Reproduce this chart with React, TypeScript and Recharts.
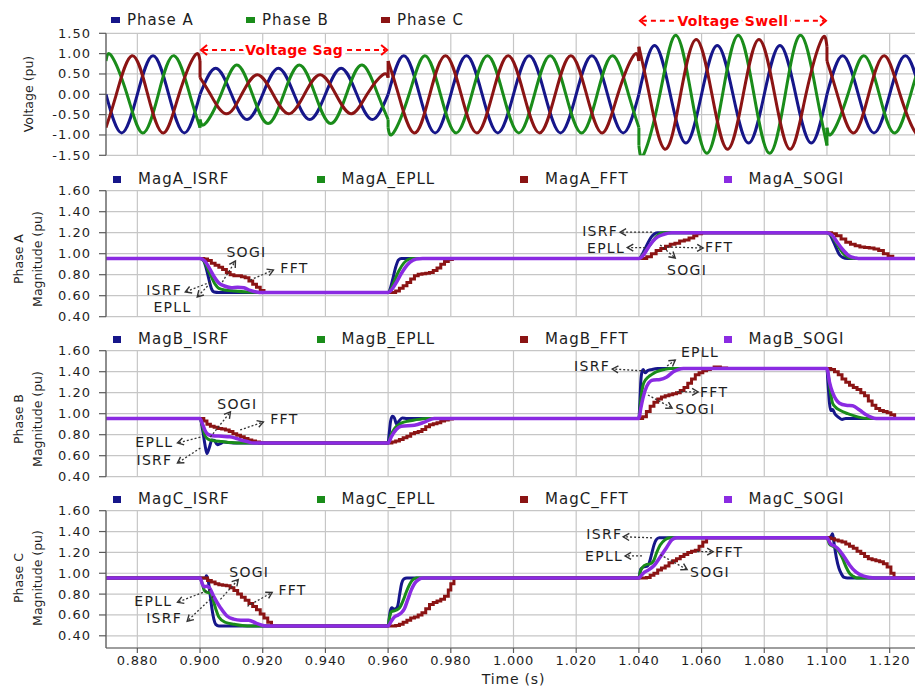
import React from 'react';
import { LineChart, Line, XAxis, YAxis, CartesianGrid, ReferenceLine, ReferenceDot } from 'recharts';

type P = [number, number];

const FONT = '"DejaVu Sans", "Liberation Sans", Arial, sans-serif';
const NAVY = '#16168a';
const GREEN = '#1a8c1a';
const DARKRED = '#8b1414';
const PURPLE = '#8a2be2';
const GRID = '#c6c6c6';
const AXIS = '#5a5a5a';
const TEXT = '#1e1e1e';

// ---------- axes ----------
const timeTicks = [0.88, 0.9, 0.92, 0.94, 0.96, 0.98, 1.0, 1.02, 1.04, 1.06, 1.08, 1.1, 1.12];
const voltageTicks = [-1.5, -1, -0.5, 0, 0.5, 1, 1.5];
const magTicks = [0.4, 0.6, 0.8, 1.0, 1.2, 1.4, 1.6];

// ---------- top panel: phase voltages (segments: normal / sag / normal / swell / normal) ----------
const phaseA: P[][] = [
  [[0.87, 0], [0.875, -0.95], [0.88, 0], [0.885, 0.95], [0.89, 0], [0.895, -0.95], [0.9, 0]],
  [[0.9, 0], [0.905, 0.64], [0.91, 0], [0.915, -0.62], [0.92, 0], [0.925, 0.64], [0.93, 0], [0.935, -0.62], [0.94, 0], [0.945, 0.64], [0.95, 0], [0.955, -0.62], [0.96, 0]],
  [[0.96, 0], [0.965, 0.95], [0.97, 0], [0.975, -0.95], [0.98, 0], [0.985, 0.95], [0.99, 0], [0.995, -0.95], [1.0, 0], [1.005, 0.95], [1.01, 0], [1.015, -0.95], [1.02, 0], [1.025, 0.95], [1.03, 0], [1.035, -0.95], [1.04, 0]],
  [[1.04, 0], [1.045, 1.2], [1.05, 0], [1.055, -1.2], [1.06, 0], [1.065, 1.2], [1.07, 0], [1.075, -1.2], [1.08, 0], [1.085, 1.2], [1.09, 0], [1.095, -1.2], [1.1, 0]],
  [[1.1, 0], [1.105, 0.95], [1.11, 0], [1.115, -0.95], [1.12, 0], [1.125, 0.95], [1.13, 0]],
];
const phaseB: P[][] = [
  [[0.87, 0.82], [0.8717, 0.95], [0.8767, 0], [0.8817, -0.95], [0.8867, 0], [0.8917, 0.95], [0.8967, 0], [0.9, -0.82]],
  [[0.9, -0.62], [0.9017, -0.72], [0.9067, 0], [0.9117, 0.72], [0.9167, 0], [0.9217, -0.72], [0.9267, 0], [0.9317, 0.72], [0.9367, 0], [0.9417, -0.72], [0.9467, 0], [0.9517, 0.72], [0.9567, 0], [0.96, -0.62]],
  [[0.96, -0.82], [0.9617, -0.95], [0.9667, 0], [0.9717, 0.95], [0.9767, 0], [0.9817, -0.95], [0.9867, 0], [0.9917, 0.95], [0.9967, 0], [1.0017, -0.95], [1.0067, 0], [1.0117, 0.95], [1.0167, 0], [1.0217, -0.95], [1.0267, 0], [1.0317, 0.95], [1.0367, 0], [1.04, -0.82]],
  [[1.04, -1.26], [1.0417, -1.45], [1.0467, 0], [1.0517, 1.45], [1.0567, 0], [1.0617, -1.45], [1.0667, 0], [1.0717, 1.45], [1.0767, 0], [1.0817, -1.45], [1.0867, 0], [1.0917, 1.45], [1.0967, 0], [1.1, -1.26]],
  [[1.1, -0.82], [1.1017, -0.95], [1.1067, 0], [1.1117, 0.95], [1.1167, 0], [1.1217, -0.95], [1.1267, 0], [1.13, 0.82]],
];
const phaseC: P[][] = [
  [[0.87, -0.82], [0.8733, 0], [0.8783, 0.95], [0.8833, 0], [0.8883, -0.95], [0.8933, 0], [0.8983, 0.95], [0.9, 0.82]],
  [[0.9, 0.41], [0.9033, 0], [0.9083, -0.48], [0.9133, 0], [0.9183, 0.48], [0.9233, 0], [0.9283, -0.48], [0.9333, 0], [0.9383, 0.48], [0.9433, 0], [0.9483, -0.48], [0.9533, 0], [0.9583, 0.48], [0.96, 0.41]],
  [[0.96, 0.82], [0.9633, 0], [0.9683, -0.95], [0.9733, 0], [0.9783, 0.95], [0.9833, 0], [0.9883, -0.95], [0.9933, 0], [0.9983, 0.95], [1.0033, 0], [1.0083, -0.95], [1.0133, 0], [1.0183, 0.95], [1.0233, 0], [1.0283, -0.95], [1.0333, 0], [1.0383, 0.95], [1.04, 0.82]],
  [[1.04, 1.17], [1.0433, 0], [1.0483, -1.35], [1.0533, 0], [1.0583, 1.35], [1.0633, 0], [1.0683, -1.35], [1.0733, 0], [1.0783, 1.35], [1.0833, 0], [1.0883, -1.35], [1.0933, 0], [1.0983, 1.35], [1.1, 1.17]],
  [[1.1, 0.82], [1.1033, 0], [1.1083, -0.95], [1.1133, 0], [1.1183, 0.95], [1.1233, 0], [1.1283, -0.95], [1.13, -0.82]],
];

// ---------- magnitude estimates ----------
const magA_ISRF: P[] = [[0.87, 0.955], [0.9, 0.955], [0.9008, 0.95], [0.9018, 0.88], [0.9028, 0.76], [0.9036, 0.67], [0.9045, 0.635], [0.906, 0.63],
  [0.96, 0.63], [0.9606, 0.66], [0.9615, 0.76], [0.9625, 0.88], [0.9633, 0.94], [0.9642, 0.955],
  [1.04, 0.955], [1.041, 0.99], [1.042, 1.05], [1.043, 1.11], [1.044, 1.16], [1.045, 1.19], [1.046, 1.2],
  [1.1, 1.2], [1.101, 1.18], [1.102, 1.12], [1.103, 1.05], [1.104, 0.99], [1.105, 0.965], [1.1065, 0.955], [1.13, 0.955]];
const magA_EPLL: P[] = [[0.87, 0.955], [0.9, 0.955], [0.9012, 0.93], [0.903, 0.82], [0.9048, 0.71], [0.906, 0.67], [0.908, 0.655], [0.911, 0.645], [0.915, 0.635], [0.92, 0.63],
  [0.96, 0.63], [0.961, 0.67], [0.962, 0.74], [0.9635, 0.84], [0.965, 0.91], [0.9665, 0.945], [0.968, 0.955],
  [1.04, 0.955], [1.041, 0.98], [1.0425, 1.04], [1.044, 1.1], [1.0455, 1.16], [1.047, 1.195], [1.048, 1.2],
  [1.1, 1.2], [1.1015, 1.17], [1.103, 1.1], [1.1045, 1.03], [1.106, 0.98], [1.108, 0.955], [1.13, 0.955]];
const magA_FFT: P[] = [[0.87, 0.955], [0.9, 0.955], [0.9012, 0.95], [0.9024, 0.935], [0.9036, 0.91], [0.9048, 0.89], [0.906, 0.87], [0.9072, 0.85], [0.9084, 0.82], [0.9096, 0.8], [0.9108, 0.79], [0.912, 0.79], [0.9132, 0.78], [0.9144, 0.77], [0.9156, 0.74], [0.9168, 0.71], [0.918, 0.68], [0.9192, 0.65], [0.9204, 0.63],
  [0.96, 0.63], [0.9612, 0.63], [0.9624, 0.645], [0.9636, 0.67], [0.9648, 0.695], [0.966, 0.725], [0.9672, 0.76], [0.9684, 0.79], [0.9696, 0.805], [0.9708, 0.81], [0.972, 0.815], [0.9732, 0.82], [0.9744, 0.84], [0.9756, 0.865], [0.9768, 0.9], [0.978, 0.925], [0.9792, 0.945], [0.9805, 0.955],
  [1.04, 0.955], [1.0425, 0.97], [1.044, 1.0], [1.0455, 1.03], [1.047, 1.05], [1.0485, 1.07], [1.05, 1.09], [1.0515, 1.1], [1.053, 1.12], [1.0545, 1.13], [1.056, 1.15], [1.0575, 1.17], [1.0585, 1.19], [1.06, 1.2],
  [1.1, 1.2], [1.1015, 1.19], [1.103, 1.17], [1.1045, 1.14], [1.106, 1.11], [1.1075, 1.09], [1.109, 1.075], [1.1105, 1.065], [1.112, 1.06], [1.1135, 1.055], [1.115, 1.045], [1.1165, 1.03], [1.118, 1.0], [1.1195, 0.975], [1.121, 0.955], [1.13, 0.955]];
const magA_SOGI: P[] = [[0.87, 0.955], [0.9, 0.955], [0.9015, 0.93], [0.903, 0.86], [0.9045, 0.78], [0.906, 0.72], [0.908, 0.69], [0.91, 0.675], [0.912, 0.68], [0.914, 0.675], [0.916, 0.65], [0.918, 0.635], [0.92, 0.63],
  [0.96, 0.63], [0.9612, 0.66], [0.9625, 0.72], [0.964, 0.8], [0.9655, 0.87], [0.967, 0.92], [0.969, 0.95], [0.971, 0.955],
  [1.04, 0.955], [1.0415, 0.99], [1.043, 1.06], [1.0445, 1.12], [1.046, 1.16], [1.048, 1.185], [1.0505, 1.2],
  [1.1, 1.2], [1.1015, 1.18], [1.103, 1.12], [1.105, 1.04], [1.107, 0.98], [1.109, 0.96], [1.11, 0.955], [1.13, 0.955]];

const magB_ISRF: P[] = [[0.87, 0.955], [0.9, 0.955], [0.9008, 0.85], [0.9016, 0.7], [0.9022, 0.62], [0.903, 0.68], [0.9038, 0.75], [0.9046, 0.745], [0.9055, 0.705], [0.9065, 0.715], [0.9075, 0.73], [0.909, 0.725], [0.912, 0.72],
  [0.96, 0.72], [0.9603, 0.8], [0.9608, 0.93], [0.9614, 0.975], [0.962, 0.96], [0.9627, 0.9], [0.9635, 0.93], [0.9645, 0.96], [0.966, 0.955],
  [1.04, 0.955], [1.0403, 1.1], [1.0406, 1.3], [1.041, 1.4], [1.0414, 1.42], [1.042, 1.39], [1.0428, 1.41], [1.044, 1.42], [1.046, 1.43],
  [1.1, 1.43], [1.1003, 1.3], [1.1008, 1.1], [1.1012, 1.03], [1.1018, 1.04], [1.1025, 1.0], [1.1035, 0.97], [1.1048, 0.945], [1.106, 0.955], [1.13, 0.955]];
const magB_EPLL: P[] = [[0.87, 0.955], [0.9, 0.955], [0.9008, 0.88], [0.9016, 0.79], [0.9025, 0.76], [0.904, 0.745], [0.907, 0.735], [0.91, 0.725], [0.913, 0.72],
  [0.96, 0.72], [0.9608, 0.79], [0.9621, 0.86], [0.9642, 0.91], [0.9665, 0.93], [0.9684, 0.94], [0.9726, 0.955],
  [1.04, 0.955], [1.0405, 1.1], [1.041, 1.22], [1.0415, 1.29], [1.043, 1.35], [1.0445, 1.38], [1.0457, 1.4], [1.048, 1.42], [1.05, 1.43],
  [1.1, 1.43], [1.1005, 1.35], [1.101, 1.23], [1.1018, 1.1], [1.1028, 1.06], [1.104, 1.035], [1.1066, 1.0], [1.1098, 0.97], [1.113, 0.955], [1.13, 0.955]];
const magB_FFT: P[] = [[0.87, 0.955], [0.9, 0.955], [0.9012, 0.93], [0.9022, 0.9], [0.9033, 0.88], [0.9045, 0.87], [0.9057, 0.86], [0.9069, 0.855], [0.9081, 0.845], [0.9093, 0.83], [0.9105, 0.81], [0.9117, 0.795], [0.9129, 0.78], [0.9141, 0.765], [0.9153, 0.75], [0.9165, 0.74], [0.9177, 0.73], [0.919, 0.72],
  [0.96, 0.72], [0.9612, 0.73], [0.9624, 0.74], [0.9636, 0.755], [0.9648, 0.77], [0.966, 0.785], [0.9672, 0.81], [0.9684, 0.82], [0.9696, 0.83], [0.9708, 0.85], [0.972, 0.875], [0.9732, 0.895], [0.9744, 0.905], [0.9756, 0.915], [0.9768, 0.93], [0.978, 0.94], [0.9792, 0.95], [0.9805, 0.955],
  [1.04, 0.955], [1.0412, 0.97], [1.0424, 1.02], [1.0436, 1.07], [1.0448, 1.11], [1.046, 1.14], [1.0472, 1.16], [1.0484, 1.17], [1.0496, 1.18], [1.0508, 1.19], [1.052, 1.2], [1.0532, 1.22], [1.0544, 1.25], [1.0556, 1.29], [1.0568, 1.33], [1.058, 1.37], [1.0592, 1.39], [1.0604, 1.41], [1.0616, 1.42], [1.0628, 1.43], [1.064, 1.445], [1.066, 1.435], [1.068, 1.43],
  [1.1, 1.43], [1.1012, 1.42], [1.1024, 1.4], [1.1036, 1.37], [1.1048, 1.33], [1.106, 1.3], [1.1072, 1.27], [1.1084, 1.25], [1.1096, 1.23], [1.1108, 1.2], [1.112, 1.17], [1.1132, 1.12], [1.1144, 1.08], [1.1156, 1.05], [1.1168, 1.03], [1.118, 1.02], [1.1192, 1.01], [1.1204, 0.99], [1.1216, 0.955], [1.13, 0.955]];
const magB_SOGI: P[] = [[0.87, 0.955], [0.9, 0.955], [0.9008, 0.9], [0.9016, 0.84], [0.9025, 0.805], [0.904, 0.79], [0.907, 0.785], [0.9095, 0.78], [0.911, 0.77], [0.913, 0.75], [0.915, 0.735], [0.917, 0.72],
  [0.96, 0.72], [0.961, 0.78], [0.9626, 0.85], [0.9642, 0.88], [0.9684, 0.89], [0.9716, 0.92], [0.9747, 0.955],
  [1.04, 0.955], [1.0406, 1.05], [1.0414, 1.16], [1.0425, 1.26], [1.0437, 1.31], [1.0447, 1.32], [1.0468, 1.325], [1.0489, 1.35], [1.051, 1.4], [1.0525, 1.42], [1.0542, 1.43],
  [1.1, 1.43], [1.1008, 1.3], [1.1018, 1.2], [1.103, 1.13], [1.104, 1.1], [1.1061, 1.08], [1.1082, 1.075], [1.1104, 1.035], [1.1125, 0.99], [1.1157, 0.955], [1.13, 0.955]];

const magC_ISRF: P[] = [[0.87, 0.955], [0.9, 0.955], [0.9018, 0.955], [0.902, 0.975], [0.9026, 0.93], [0.9032, 0.8], [0.9038, 0.66], [0.9044, 0.56], [0.905, 0.51], [0.906, 0.495],
  [0.96, 0.495], [0.9603, 0.56], [0.9607, 0.64], [0.9612, 0.67], [0.9618, 0.655], [0.9625, 0.66], [0.963, 0.68], [0.9637, 0.8], [0.9643, 0.9], [0.965, 0.945], [0.966, 0.955],
  [1.04, 0.955], [1.0403, 1.0], [1.0406, 1.04], [1.0415, 1.06], [1.0428, 1.07], [1.0436, 1.13], [1.0442, 1.2], [1.0448, 1.27], [1.0455, 1.32], [1.0465, 1.34],
  [1.1, 1.34], [1.1012, 1.35], [1.1018, 1.38], [1.1022, 1.3], [1.103, 1.15], [1.1038, 1.05], [1.1045, 1.0], [1.1055, 0.96], [1.1065, 0.955], [1.13, 0.955]];
const magC_EPLL: P[] = [[0.87, 0.955], [0.9, 0.955], [0.9007, 0.9], [0.9013, 0.84], [0.902, 0.82], [0.9032, 0.81], [0.904, 0.76], [0.905, 0.66], [0.906, 0.58], [0.908, 0.53], [0.911, 0.51], [0.915, 0.495],
  [0.96, 0.495], [0.9605, 0.58], [0.961, 0.63], [0.9625, 0.645], [0.9637, 0.67], [0.9648, 0.74], [0.9658, 0.82], [0.9668, 0.89], [0.9678, 0.935], [0.969, 0.955],
  [1.04, 0.955], [1.0405, 1.02], [1.041, 1.05], [1.0425, 1.085], [1.0436, 1.09], [1.0447, 1.12], [1.0457, 1.2], [1.0468, 1.27], [1.0483, 1.32], [1.05, 1.34],
  [1.1, 1.34], [1.1008, 1.28], [1.1018, 1.26], [1.103, 1.24], [1.104, 1.2], [1.105, 1.14], [1.1061, 1.06], [1.1072, 1.0], [1.1082, 0.975], [1.1095, 0.955], [1.13, 0.955]];
const magC_FFT: P[] = [[0.87, 0.955], [0.9, 0.955], [0.9012, 0.955], [0.9024, 0.93], [0.9036, 0.915], [0.9048, 0.9], [0.906, 0.89], [0.9072, 0.885], [0.9084, 0.88], [0.9096, 0.86], [0.9108, 0.835], [0.912, 0.8], [0.9132, 0.77], [0.9144, 0.74], [0.9156, 0.71], [0.9168, 0.68], [0.918, 0.65], [0.9192, 0.61], [0.9204, 0.57], [0.9216, 0.53], [0.9228, 0.495],
  [0.96, 0.495], [0.9612, 0.495], [0.9624, 0.5], [0.9636, 0.51], [0.9648, 0.53], [0.966, 0.55], [0.9672, 0.57], [0.9684, 0.58], [0.9696, 0.6], [0.9708, 0.62], [0.972, 0.66], [0.9732, 0.7], [0.9744, 0.72], [0.9756, 0.735], [0.9768, 0.75], [0.978, 0.78], [0.9792, 0.84], [0.98, 0.9], [0.981, 0.955],
  [1.04, 0.955], [1.0412, 0.955], [1.0424, 0.96], [1.0436, 0.98], [1.0448, 1.0], [1.046, 1.03], [1.0472, 1.05], [1.0484, 1.07], [1.0496, 1.1], [1.0508, 1.12], [1.052, 1.14], [1.0532, 1.16], [1.0544, 1.18], [1.0556, 1.2], [1.0568, 1.21], [1.058, 1.22], [1.0592, 1.26], [1.0604, 1.3], [1.0616, 1.34],
  [1.1, 1.34], [1.1012, 1.33], [1.1024, 1.32], [1.1036, 1.31], [1.1048, 1.3], [1.106, 1.28], [1.1072, 1.26], [1.1084, 1.24], [1.1096, 1.21], [1.1108, 1.19], [1.112, 1.16], [1.1132, 1.14], [1.1144, 1.13], [1.1156, 1.12], [1.1168, 1.11], [1.118, 1.09], [1.1192, 1.06], [1.1204, 1.0], [1.1214, 0.955], [1.13, 0.955]];
const magC_SOGI: P[] = [[0.87, 0.955], [0.9, 0.955], [0.9007, 0.9], [0.9013, 0.87], [0.902, 0.875], [0.903, 0.86], [0.9043, 0.78], [0.9065, 0.67], [0.9086, 0.59], [0.9107, 0.56], [0.913, 0.55], [0.9155, 0.55], [0.918, 0.52], [0.921, 0.495],
  [0.96, 0.495], [0.961, 0.54], [0.962, 0.58], [0.9632, 0.6], [0.9642, 0.62], [0.9652, 0.66], [0.9663, 0.75], [0.9674, 0.84], [0.9684, 0.9], [0.9695, 0.935], [0.971, 0.955],
  [1.04, 0.955], [1.0408, 0.98], [1.0418, 1.01], [1.043, 1.03], [1.0447, 1.07], [1.0468, 1.156], [1.0489, 1.25], [1.0505, 1.32], [1.0521, 1.34],
  [1.1, 1.34], [1.1012, 1.28], [1.1025, 1.26], [1.104, 1.22], [1.105, 1.18], [1.1061, 1.13], [1.1072, 1.08], [1.1093, 1.01], [1.1115, 0.975], [1.1136, 0.96], [1.115, 0.955], [1.13, 0.955]];

// ---------- annotations ----------
type Ann = { text: string; from: P; to: P; at: P; anchor: 'start' | 'middle' | 'end' };
const annA: Ann[] = [
  { text: 'ISRF', from: [0.9033, 0.73], to: [0.8953, 0.635], at: [0.8943, 0.65], anchor: 'end' },
  { text: 'EPLL', from: [0.9033, 0.72], to: [0.8991, 0.588], at: [0.8912, 0.492], anchor: 'middle' },
  { text: 'SOGI', from: [0.9071, 0.73], to: [0.9113, 0.93], at: [0.9148, 1.016], anchor: 'middle' },
  { text: 'FFT', from: [0.916, 0.749], to: [0.9234, 0.845], at: [0.9256, 0.864], anchor: 'start' },
  { text: 'ISRF', from: [1.0442, 1.205], to: [1.034, 1.205], at: [1.0334, 1.215], anchor: 'end' },
  { text: 'EPLL', from: [1.042, 1.058], to: [1.0363, 1.058], at: [1.0356, 1.055], anchor: 'end' },
  { text: 'FFT', from: [1.049, 1.064], to: [1.0605, 1.054], at: [1.0611, 1.062], anchor: 'start' },
  { text: 'SOGI', from: [1.0468, 1.083], to: [1.0516, 0.959], at: [1.0554, 0.845], anchor: 'middle' },
];
const annB: Ann[] = [
  { text: 'SOGI', from: [0.9033, 0.778], to: [0.9097, 1.017], at: [0.9119, 1.092], anchor: 'middle' },
  { text: 'FFT', from: [0.9128, 0.845], to: [0.9202, 0.921], at: [0.9224, 0.95], anchor: 'start' },
  { text: 'EPLL', from: [0.9001, 0.778], to: [0.8928, 0.721], at: [0.8915, 0.73], anchor: 'end' },
  { text: 'ISRF', from: [0.9001, 0.673], to: [0.8928, 0.53], at: [0.8912, 0.559], anchor: 'end' },
  { text: 'ISRF', from: [1.042, 1.407], to: [1.0315, 1.426], at: [1.0308, 1.454], anchor: 'end' },
  { text: 'EPLL', from: [1.049, 1.454], to: [1.0516, 1.511], at: [1.0595, 1.588], anchor: 'middle' },
  { text: 'FFT', from: [1.0522, 1.207], to: [1.0589, 1.207], at: [1.0595, 1.21], anchor: 'start' },
  { text: 'SOGI', from: [1.0429, 1.178], to: [1.0506, 1.054], at: [1.0516, 1.045], anchor: 'start' },
];
const annC: Ann[] = [
  { text: 'SOGI', from: [0.9065, 0.75], to: [0.9122, 0.94], at: [0.9157, 1.016], anchor: 'middle' },
  { text: 'FFT', from: [0.9151, 0.683], to: [0.923, 0.816], at: [0.925, 0.835], anchor: 'start' },
  { text: 'EPLL', from: [0.9033, 0.845], to: [0.8928, 0.721], at: [0.8912, 0.73], anchor: 'end' },
  { text: 'ISRF', from: [0.9042, 0.778], to: [0.8959, 0.54], at: [0.8943, 0.569], anchor: 'end' },
  { text: 'ISRF', from: [1.0442, 1.34], to: [1.035, 1.35], at: [1.0347, 1.372], anchor: 'end' },
  { text: 'EPLL', from: [1.041, 1.166], to: [1.0356, 1.166], at: [1.035, 1.163], anchor: 'end' },
  { text: 'FFT', from: [1.0586, 1.207], to: [1.0637, 1.207], at: [1.0643, 1.207], anchor: 'start' },
  { text: 'SOGI', from: [1.0468, 1.178], to: [1.0554, 1.035], at: [1.0563, 1.016], anchor: 'start' },
];
const eventSpans: { text: string; from: number; to: number; level: number }[] = [
  { text: 'Voltage Sag', from: 0.9, to: 0.96, level: 1.09 },
  { text: 'Voltage Swell', from: 1.04, to: 1.1, level: 1.81 },
];

// ---------- helpers ----------
const toPts = (arr: P[]) => arr.map(([t, v]) => ({ t, v }));
const W = 921;

const YTick = (digits: number) => (p: any) => (
  <text x={p.x} y={p.y} textAnchor="end" dominantBaseline="central"
    style={{ fontFamily: FONT, fontSize: 13, letterSpacing: 1, fill: TEXT }}>
    {Number(p.payload.value).toFixed(digits)}
  </text>
);
const XTick = (p: any) => (
  <text x={p.x} y={p.y} textAnchor="middle" dy="0.75em"
    style={{ fontFamily: FONT, fontSize: 13, letterSpacing: 0.8, fill: TEXT }}>
    {Number(p.payload.value).toFixed(3)}
  </text>
);

const ArrowShape = (props: any) => {
  const { x1, y1, x2, y2 } = props;
  const dx = x2 - x1, dy = y2 - y1;
  const len = Math.hypot(dx, dy) || 1;
  const ux = dx / len, uy = dy / len;
  const h = 6, w = 3.5;
  const ax = x2 - ux * h - uy * w, ay = y2 - uy * h + ux * w;
  const bx = x2 - ux * h + uy * w, by = y2 - uy * h - ux * w;
  return (
    <g>
      <line x1={x1} y1={y1} x2={x2} y2={y2} stroke="#333" strokeWidth={1.3} strokeDasharray="2 2" />
      <polyline points={`${ax},${ay} ${x2},${y2} ${bx},${by}`} fill="none" stroke="#333" strokeWidth={1.4} />
    </g>
  );
};

const SpanShape = (label: string) => (props: any) => {
  const { x1, y1, x2 } = props;
  const mid = (x1 + x2) / 2;
  return (
    <g>
      <line x1={x1 + 3} y1={y1} x2={x2 - 3} y2={y1} stroke="#ff0000" strokeWidth={2} strokeDasharray="5 4" />
      <polyline points={`${x1 + 7},${y1 - 5} ${x1 + 1},${y1} ${x1 + 7},${y1 + 5}`} fill="none" stroke="#ff0000" strokeWidth={2} />
      <polyline points={`${x2 - 7},${y1 - 5} ${x2 - 1},${y1} ${x2 - 7},${y1 + 5}`} fill="none" stroke="#ff0000" strokeWidth={2} />
      <text x={mid} y={y1} textAnchor="middle" dominantBaseline="central" fill="#ff0000" stroke="#ffffff" strokeWidth={7}
        paintOrder="stroke" style={{ fontFamily: FONT, fontSize: 14, fontWeight: 'bold', letterSpacing: 0.3 }}>
        {label}
      </text>
    </g>
  );
};

const annotationElements = (anns: Ann[]) =>
  anns.flatMap((a, i) => [
    <ReferenceLine key={`al${i}`} segment={[{ x: a.from[0], y: a.from[1] }, { x: a.to[0], y: a.to[1] }]}
      ifOverflow="visible" shape={ArrowShape} />,
    <ReferenceDot key={`ad${i}`} x={a.at[0]} y={a.at[1]} r={0} ifOverflow="visible"
      shape={(p: any) => (
        <text x={p.cx} y={p.cy} textAnchor={a.anchor} dominantBaseline="central"
          style={{ fontFamily: FONT, fontSize: 14, letterSpacing: 1.3, fill: TEXT }}>{a.text}</text>
      )} />,
  ]);

const waveLines = (segs: P[][], color: string, key: string) => {
  const out: React.ReactNode[] = [];
  segs.forEach((seg, i) => {
    out.push(<Line key={`${key}s${i}`} data={toPts(seg)} dataKey="v" type="natural" stroke={color}
      strokeWidth={3} dot={false} activeDot={false} isAnimationActive={false} />);
    if (i < segs.length - 1) {
      out.push(<Line key={`${key}j${i}`} data={toPts([seg[seg.length - 1], segs[i + 1][0]])} dataKey="v" type="linear"
        stroke={color} strokeWidth={3} dot={false} activeDot={false} isAnimationActive={false} />);
    }
  });
  return out;
};

type LegendItem = { name: string; color: string };
const LegendRow = ({ items, top, start, step, gap, mw, mh }: { items: LegendItem[]; top: number; start: number; step: number; gap: number; mw: number; mh: number }) => (
  <div style={{ position: 'absolute', left: 0, top, width: 915, height: 20 }}>
    {items.map((it, i) => (
      <div key={it.name} style={{ position: 'absolute', left: start + i * step, top: 0, height: 20, display: 'flex', alignItems: 'center', whiteSpace: 'nowrap' }}>
        <span style={{ display: 'inline-block', width: mw, height: mh, background: it.color, marginRight: gap }} />
        <span style={{ fontFamily: FONT, fontSize: 15, letterSpacing: 1, color: TEXT, lineHeight: '20px' }}>{it.name}</span>
      </div>
    ))}
  </div>
);

const axisProps = {
  axisLine: { stroke: AXIS, strokeWidth: 1.2 },
  tickLine: { stroke: AXIS, strokeWidth: 1.2 },
};

type MagProps = { top: number; height: number; isrf: P[]; epll: P[]; fft: P[]; sogi: P[]; anns: Ann[]; showX: boolean };
const MagPanel = ({ top, height, isrf, epll, fft, sogi, anns, showX }: MagProps) => (
  <div style={{ position: 'absolute', left: 0, top }}>
    <LineChart width={W} height={height} margin={{ top: 25.7, right: 0, bottom: showX ? 0 : 8.3, left: 0 }}>
      <CartesianGrid stroke={GRID} strokeWidth={1.2} />
      <XAxis type="number" dataKey="t" domain={[0.87, 1.13]} ticks={timeTicks} interval={0} allowDataOverflow
        hide={!showX} height={38} tickSize={5} tickMargin={2} tick={XTick} {...axisProps}
        label={{ value: 'Time (s)', position: 'insideBottom', offset: 2, style: { fontFamily: FONT, fontSize: 14, letterSpacing: 0.8, fill: TEXT } }} />
      <YAxis type="number" domain={showX ? [0.283, 1.6] : [0.4, 1.6]} ticks={magTicks} interval={0} width={106} allowDataOverflow
        tickSize={7} tickMargin={8} tick={YTick(2)} {...axisProps} />
      <Line data={toPts(isrf)} dataKey="v" type="monotone" stroke={NAVY} strokeWidth={3} dot={false} activeDot={false} isAnimationActive={false} />
      <Line data={toPts(epll)} dataKey="v" type="monotone" stroke={GREEN} strokeWidth={3} dot={false} activeDot={false} isAnimationActive={false} />
      <Line data={toPts(fft)} dataKey="v" type="stepAfter" stroke={DARKRED} strokeWidth={3} dot={false} activeDot={false} isAnimationActive={false} />
      <Line data={toPts(sogi)} dataKey="v" type="monotone" stroke={PURPLE} strokeWidth={3.5} dot={false} activeDot={false} isAnimationActive={false} />
      {annotationElements(anns)}
    </LineChart>
  </div>
);

const phaseItems: LegendItem[] = [
  { name: 'Phase A', color: NAVY },
  { name: 'Phase B', color: GREEN },
  { name: 'Phase C', color: DARKRED },
];
const magItems = (p: string): LegendItem[] => [
  { name: `Mag${p}_ISRF`, color: NAVY },
  { name: `Mag${p}_EPLL`, color: GREEN },
  { name: `Mag${p}_FFT`, color: DARKRED },
  { name: `Mag${p}_SOGI`, color: PURPLE },
];

const AxisTitles = () => {
  const st = { fontFamily: FONT, fontSize: 12.5, fill: TEXT } as React.CSSProperties;
  const rot = (x: number, y: number, s: string) => (
    <text key={s + y} x={x} y={y} transform={`rotate(-90 ${x} ${y})`} textAnchor="middle" dominantBaseline="central" style={st}>{s}</text>
  );
  return (
    <svg width={915} height={686} style={{ position: 'absolute', left: 0, top: 0, pointerEvents: 'none' }}>
      {rot(28, 94, 'Voltage (pu)')}
      {rot(18, 259, 'Phase A')}
      {rot(37, 259, 'Magnitude (pu)')}
      {rot(18, 419, 'Phase B')}
      {rot(37, 419, 'Magnitude (pu)')}
      {rot(18, 578, 'Phase C')}
      {rot(37, 578, 'Magnitude (pu)')}
    </svg>
  );
};

export default function App() {
  return (
    <div style={{ position: 'absolute', left: 0, top: 0, width: 915, height: 686, overflow: 'hidden', background: '#ffffff' }}>
      <div style={{ position: 'absolute', left: 0, top: 0 }}>
        <LineChart width={W} height={165} margin={{ top: 33.3, right: 0, bottom: 9.7, left: 0 }}>
          <CartesianGrid stroke={GRID} strokeWidth={1.2} />
          <XAxis type="number" dataKey="t" domain={[0.87, 1.13]} ticks={timeTicks} interval={0} allowDataOverflow hide />
          <YAxis type="number" domain={[-1.5, 1.5]} ticks={voltageTicks} interval={0} width={106} allowDataOverflow
            tickSize={7} tickMargin={8} tick={YTick(2)} {...axisProps} />
          {waveLines(phaseA, NAVY, 'a')}
          {waveLines(phaseB, GREEN, 'b')}
          {waveLines(phaseC, DARKRED, 'c')}
          {eventSpans.map((s) => (
            <ReferenceLine key={s.text} segment={[{ x: s.from, y: s.level }, { x: s.to, y: s.level }]}
              ifOverflow="visible" shape={SpanShape(s.text)} />
          ))}
        </LineChart>
      </div>
      <MagPanel top={165} height={160} isrf={magA_ISRF} epll={magA_EPLL} fft={magA_FFT} sogi={magA_SOGI} anns={annA} showX={false} />
      <MagPanel top={325} height={160} isrf={magB_ISRF} epll={magB_EPLL} fft={magB_FFT} sogi={magB_SOGI} anns={annB} showX={false} />
      <MagPanel top={485} height={201} isrf={magC_ISRF} epll={magC_EPLL} fft={magC_FFT} sogi={magC_SOGI} anns={annC} showX={true} />
      <LegendRow items={phaseItems} top={10} start={111} step={135} gap={7} mw={9} mh={6} />
      <LegendRow items={magItems('A')} top={169} start={113} step={203.5} gap={17} mw={8} mh={7} />
      <LegendRow items={magItems('B')} top={329} start={113} step={203.5} gap={17} mw={8} mh={7} />
      <LegendRow items={magItems('C')} top={489} start={113} step={203.5} gap={17} mw={8} mh={7} />
      <AxisTitles />
    </div>
  );
}
